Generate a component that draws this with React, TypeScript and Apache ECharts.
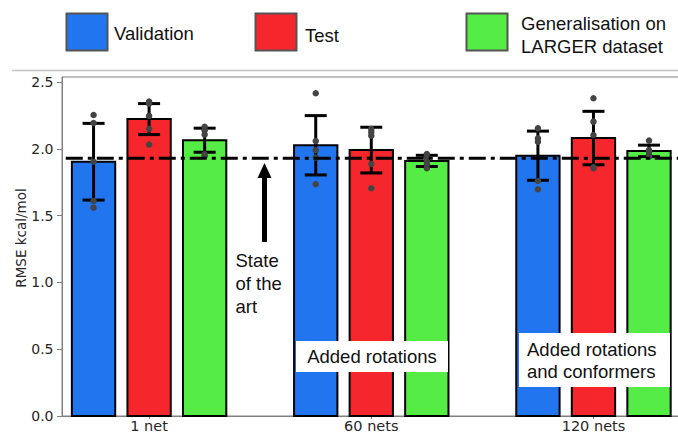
import React, { useEffect, useRef } from 'react';
import * as echarts from 'echarts';

// ---------- data ----------
const CATEGORIES = ['1 net', '60 nets', '120 nets'];
const SERIES_NAMES = ['Validation', 'Test', 'Generalisation on\nLARGER dataset'];

const VALIDATION_MEAN = [1.903, 2.026, 1.948];
const TEST_MEAN = [2.222, 1.99, 2.08];
const LARGER_MEAN = [2.064, 1.909, 1.984];

const VALIDATION_ERR = [0.287, 0.222, 0.184];
const TEST_ERR = [0.116, 0.171, 0.2];
const LARGER_ERR = [0.09, 0.042, 0.043];

const VALIDATION_RUNS = [
  [2.253, 2.193, 1.903, 1.609, 1.559],
  [2.415, 2.058, 1.989, 1.934, 1.734],
  [2.153, 2.078, 2.053, 1.759, 1.697],
];
const TEST_RUNS = [
  [2.353, 2.338, 2.246, 2.15, 2.031],
  [2.148, 2.124, 2.098, 1.886, 1.704],
  [2.378, 2.203, 2.103, 1.861, 1.855],
];
const LARGER_RUNS = [
  [2.165, 2.138, 2.106, 1.959, 1.946],
  [1.96, 1.935, 1.91, 1.885, 1.855],
  [2.061, 1.99, 1.975, 1.955, 1.94],
];

const STATE_OF_THE_ART = 1.929;
const Y_TICKS = [0, 0.5, 1.0, 1.5, 2.0, 2.5];
const X_TICKS = [0, 1, 2];

// ---------- layout / style ----------
const X_MIN = -0.392;
const X_MAX = 2.502;
const Y_MAX = 2.537;
const BAR_WIDTH = 0.195;
const OFFSETS = [-0.25, 0, 0.25];
const COLORS = ['#2176EF', '#F5272C', '#55EC45'];
const CAP_HALF = 11;

const SANS = '"Liberation Sans", Arial, sans-serif';
const DEJAVU = '"DejaVu Sans", sans-serif';
const TICK_COLOR = '#262626';
const SPINE_COLOR = '#808080';

const GROUPS = [
  { means: VALIDATION_MEAN, errs: VALIDATION_ERR, runs: VALIDATION_RUNS },
  { means: TEST_MEAN, errs: TEST_ERR, runs: TEST_RUNS },
  { means: LARGER_MEAN, errs: LARGER_ERR, runs: LARGER_RUNS },
];

function buildOption() {
  const series: any[] = [];

  GROUPS.forEach((g, gi) => {
    const color = COLORS[gi];
    series.push({
      type: 'custom',
      name: SERIES_NAMES[gi],
      z: 2,
      data: g.means.map((v, i) => [X_TICKS[i] + OFFSETS[gi], v]),
      encode: { x: 0, y: 1 },
      renderItem: (params: any, api: any) => {
        const x = api.value(0);
        const v = api.value(1);
        const p0 = api.coord([x - BAR_WIDTH / 2, v]);
        const p1 = api.coord([x + BAR_WIDTH / 2, 0]);
        return {
          type: 'rect',
          shape: { x: p0[0], y: p0[1], width: p1[0] - p0[0], height: p1[1] - p0[1] },
          style: { fill: color, stroke: '#000', lineWidth: 2 },
        };
      },
    });
  });

  GROUPS.forEach((g, gi) => {
    series.push({
      type: 'custom',
      z: 3,
      data: g.means.map((v, i) => [X_TICKS[i] + OFFSETS[gi], v, g.errs[i]]),
      encode: { x: 0, y: 1 },
      renderItem: (params: any, api: any) => {
        const x = api.value(0);
        const v = api.value(1);
        const e = api.value(2);
        const top = api.coord([x, v + e]);
        const bot = api.coord([x, v - e]);
        const st = { stroke: '#000', lineWidth: 3 };
        return {
          type: 'group',
          children: [
            { type: 'line', shape: { x1: top[0], y1: top[1], x2: bot[0], y2: bot[1] }, style: st },
            { type: 'line', shape: { x1: top[0] - CAP_HALF, y1: top[1], x2: top[0] + CAP_HALF, y2: top[1] }, style: st },
            { type: 'line', shape: { x1: bot[0] - CAP_HALF, y1: bot[1], x2: bot[0] + CAP_HALF, y2: bot[1] }, style: st },
          ],
        };
      },
    });
  });

  GROUPS.forEach((g, gi) => {
    const pts: number[][] = [];
    g.runs.forEach((runs, i) => runs.forEach((r) => pts.push([X_TICKS[i] + OFFSETS[gi], r])));
    series.push({
      type: 'scatter',
      z: 4,
      data: pts,
      symbol: 'circle',
      symbolSize: 6.5,
      itemStyle: { color: '#444', opacity: 1 },
    });
  });

  series.push({
    type: 'line',
    z: 5,
    data: [
      [X_MIN + 0.017, STATE_OF_THE_ART],
      [X_MAX, STATE_OF_THE_ART],
    ],
    symbol: 'none',
    lineStyle: { color: '#000', width: 3, type: [17, 5, 4, 5], cap: 'butt' },
  });

  const legendRect = (x: number, y: number, color: string) => ({
    type: 'rect',
    shape: { x, y, width: 41, height: 37 },
    style: { fill: color, stroke: '#555', lineWidth: 2 },
  });
  const txt = (text: string, x: number, y: number, extra: any = {}) => ({
    type: 'text',
    x,
    y,
    style: {
      text,
      fontSize: 18.5,
      fontFamily: SANS,
      fill: '#111',
      textAlign: 'left',
      textVerticalAlign: 'middle',
      lineHeight: 23,
      ...extra,
    },
  });

  const graphic: any[] = [
    { type: 'line', shape: { x1: 12, y1: 70.5, x2: 678, y2: 70.5 }, style: { stroke: '#c4c4c4', lineWidth: 1.5 } },
    legendRect(66.5, 13.5, COLORS[0]),
    legendRect(255.5, 13.5, COLORS[1]),
    legendRect(466.5, 13.5, COLORS[2]),
    txt(SERIES_NAMES[0], 114, 33),
    txt(SERIES_NAMES[1], 305, 35),
    txt(SERIES_NAMES[2], 521, 34.5),
    // y axis title
    {
      type: 'text',
      x: 21,
      y: 238,
      rotation: Math.PI / 2,
      style: {
        text: 'RMSE kcal/mol',
        fontSize: 13.5,
        fontFamily: DEJAVU,
        fill: TICK_COLOR,
        textAlign: 'center',
        textVerticalAlign: 'middle',
      },
    },
    // arrow
    { type: 'rect', z: 10, shape: { x: 262, y: 177, width: 5, height: 65 }, style: { fill: '#000' } },
    {
      type: 'polygon',
      z: 10,
      shape: { points: [[257.5, 178], [271.5, 178], [264.5, 163]] },
      style: { fill: '#000' },
    },
    { ...txt('State\nof the\nart', 235.5, 283), z: 10 },
    // annotation boxes
    { type: 'rect', z: 20, shape: { x: 296, y: 341, width: 152, height: 31 }, style: { fill: '#fff' } },
    { ...txt('Added rotations', 372, 356.5, { textAlign: 'center' }), z: 21 },
    { type: 'rect', z: 20, shape: { x: 519, y: 333, width: 151, height: 54 }, style: { fill: '#fff' } },
    { ...txt('Added rotations\nand conformers', 527, 360.5, { lineHeight: 22.7 }), z: 21 },
  ];

  return {
    animation: false,
    backgroundColor: '#fff',
    grid: {
      left: 62,
      top: 77,
      width: 643,
      height: 339,
      show: true,
      borderColor: SPINE_COLOR,
      borderWidth: 1,
      backgroundColor: 'transparent',
      outerBoundsMode: 'none',
      containLabel: false,
    },
    xAxis: {
      type: 'value',
      min: X_MIN,
      max: X_MAX,
      splitLine: { show: false },
      axisLine: { show: true, onZero: false, lineStyle: { color: SPINE_COLOR, width: 1 } },
      axisTick: { show: true, length: 3, customValues: X_TICKS, lineStyle: { color: SPINE_COLOR } },
      axisLabel: {
        customValues: X_TICKS,
        formatter: (v: number) => CATEGORIES[Math.round(v)] ?? '',
        fontSize: 14.5,
        lineHeight: 14,
        fontFamily: DEJAVU,
        color: TICK_COLOR,
        margin: 2.5,
      },
    },
    yAxis: {
      type: 'value',
      min: 0,
      max: Y_MAX,
      splitLine: { show: false },
      axisLine: { show: true, onZero: false, lineStyle: { color: SPINE_COLOR, width: 1 } },
      axisTick: { show: true, length: 5, customValues: Y_TICKS, lineStyle: { color: SPINE_COLOR } },
      axisLabel: {
        customValues: Y_TICKS,
        formatter: (v: number) => v.toFixed(1),
        fontSize: 14,
        fontFamily: DEJAVU,
        color: TICK_COLOR,
        margin: 8.5,
      },
    },
    series,
    graphic,
  };
}

export default function App() {
  const ref = useRef<HTMLDivElement>(null);
  useEffect(() => {
    document.body.style.margin = '0';
    const chart = echarts.init(ref.current!, null, { renderer: 'svg' });
    chart.setOption(buildOption() as any);
    return () => chart.dispose();
  }, []);
  return <div ref={ref} style={{ width: 678, height: 433 }} />;
}
